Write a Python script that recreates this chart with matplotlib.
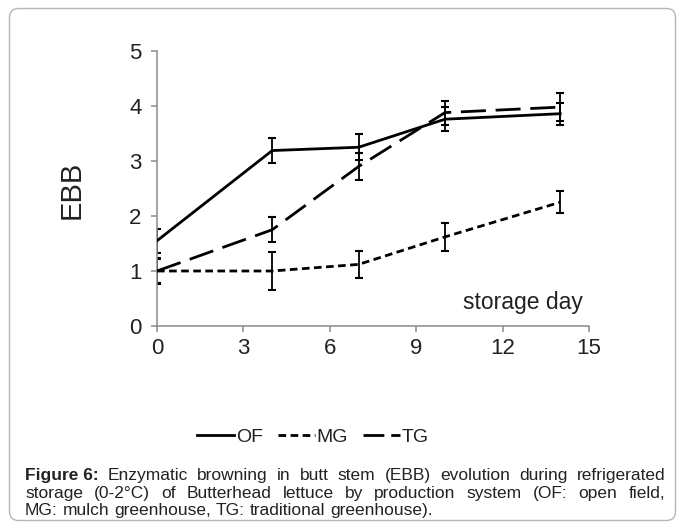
import matplotlib
matplotlib.use('Agg')
import matplotlib.pyplot as plt
from matplotlib.lines import Line2D
from matplotlib.patches import FancyBboxPatch
from matplotlib.transforms import IdentityTransform

plt.rcParams['font.family'] = ['Liberation Sans', 'DejaVu Sans']
plt.rcParams['lines.scale_dashes'] = False

# data
days = [0, 4, 7, 10, 14]
of_mean = [1.55, 3.19, 3.25, 3.76, 3.86]
of_err = [0.22, 0.23, 0.24, 0.22, 0.20]
mg_mean = [1.00, 1.00, 1.12, 1.62, 2.25]
mg_err = [0.22, 0.34, 0.24, 0.25, 0.20]
tg_mean = [1.00, 1.75, 2.90, 3.88, 3.98]
tg_err = [0.23, 0.23, 0.24, 0.22, 0.25]
series_names = ['OF', 'MG', 'TG']

W, H = 683, 526
fig = plt.figure(figsize=(W / 100, H / 100), dpi=100)
ax = fig.add_axes([157 / W, 1 - 326 / H, 432 / W, 275 / H])

# styles
lw = 2.0
styles = {
    'OF': dict(linestyle='-'),
    'MG': dict(dashes=(5.5, 3.2)),
    'TG': dict(dashes=(18.0, 7.0)),
}
# legend handles are short, so TG gets a tighter pattern there ("— -")
legend_styles = dict(styles, TG=dict(dashes=(15.0, 5.0)))
means = {'OF': of_mean, 'MG': mg_mean, 'TG': tg_mean}
errs = {'OF': of_err, 'MG': mg_err, 'TG': tg_err}

for name in series_names:
    ax.errorbar(days, means[name], yerr=errs[name], color='black', lw=0,
                elinewidth=1.3, capsize=3.2, capthick=1.5, zorder=2)
    ax.plot(days, means[name], color='black', lw=lw, zorder=3, **styles[name])

ax.set_xlim(0, 15)
ax.set_ylim(0, 5)
ax.set_xticks([0, 3, 6, 9, 12, 15])
ax.set_yticks([0, 1, 2, 3, 4, 5])
for s in ['top', 'right']:
    ax.spines[s].set_visible(False)
for s in ['left', 'bottom']:
    ax.spines[s].set_color('#8a8a8a')
    ax.spines[s].set_linewidth(1.1)
ax.tick_params(axis='both', direction='out', length=4, width=1.1, color='#8a8a8a',
               labelsize=16, labelcolor='#222222')
ax.tick_params(axis='y', pad=7)
ax.tick_params(axis='x', pad=5)
ax.text(583 / W, 1 - 302 / H, 'storage day', transform=fig.transFigure, ha='right',
        va='center', fontsize=16.5, color='#222222')
fig.text(72 / W, 1 - 190 / H, 'EBB', rotation=90, ha='center', va='center',
         fontsize=21, color='#222222')

# legend
handles = [Line2D([], [], color='black', lw=lw, **legend_styles[n]) for n in series_names]
fig.legend(handles, series_names, ncol=3, loc='center', bbox_to_anchor=(313 / W, 1 - 437 / H),
           frameon=False, fontsize=14, handlelength=1.9, handletextpad=0.1,
           columnspacing=0.75, labelcolor='#222222')

# rounded border
border = FancyBboxPatch((9.5, 5.5), 666, 512, boxstyle='round,pad=0,rounding_size=9',
                        transform=IdentityTransform(), facecolor='none',
                        edgecolor='#b5b5b5', lw=1.0)
fig.add_artist(border)

# caption, justified like the source page
cap_lines = [
    [('Figure 6:', 'bold'), ('Enzymatic', 'normal'), ('browning', 'normal'), ('in', 'normal'),
     ('butt', 'normal'), ('stem', 'normal'), ('(EBB)', 'normal'), ('evolution', 'normal'),
     ('during', 'normal'), ('refrigerated', 'normal')],
    [('storage', 'normal'), ('(0-2°C)', 'normal'), ('of', 'normal'), ('Butterhead', 'normal'),
     ('lettuce', 'normal'), ('by', 'normal'), ('production', 'normal'), ('system', 'normal'),
     ('(OF:', 'normal'), ('open', 'normal'), ('field,', 'normal')],
    [('MG:', 'normal'), ('mulch', 'normal'), ('greenhouse,', 'normal'), ('TG:', 'normal'),
     ('traditional', 'normal'), ('greenhouse).', 'normal')],
]
cap_base = [480, 498, 515]
cap_left, cap_right = 25, 665
cap_size = 12.5

fig.canvas.draw()
renderer = fig.canvas.get_renderer()
probe = fig.text(0, 0, 'a a', fontsize=cap_size)
w_aa = probe.get_window_extent(renderer).width
probe.set_text('aa')
space_w = w_aa - probe.get_window_extent(renderer).width
probe.remove()

for i, words in enumerate(cap_lines):
    objs = []
    for txt, wt in words:
        t = fig.text(0, 1 - cap_base[i] / H, txt, fontsize=cap_size, fontweight=wt,
                     color='#222222', va='baseline', ha='left')
        objs.append(t)
    widths = [t.get_window_extent(renderer).width for t in objs]
    if i < len(cap_lines) - 1:
        gap = (cap_right - cap_left - sum(widths)) / (len(objs) - 1)
    else:
        gap = space_w
    x = cap_left
    for t, w in zip(objs, widths):
        t.set_x(x / W)
        x += w + gap

fig.savefig('out.png', dpi=100)
